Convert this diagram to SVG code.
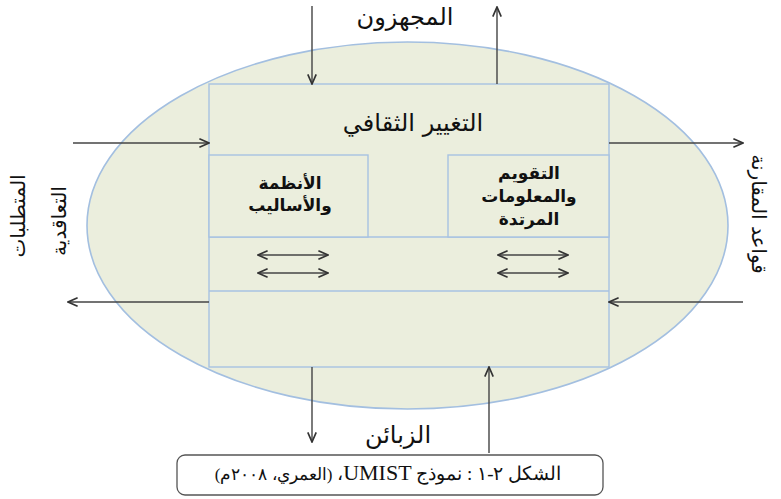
<svg xmlns="http://www.w3.org/2000/svg" width="781" height="499" viewBox="0 0 781 499">
<defs>
<marker id="ah" markerUnits="userSpaceOnUse" markerWidth="12" markerHeight="12" viewBox="0 0 10 10" refX="9" refY="5" orient="auto-start-reverse">
<path d="M1,1.5 L9,5 L1,8.5" fill="none" stroke="#333" stroke-width="1.4"/>
</marker>
<style>
.shape{fill:#ebeedd;stroke:#a3bfe0;stroke-width:1.6}
.box{fill:#ebeedd;stroke:#a7c2e2;stroke-width:1.4}
.arr{stroke:#444;stroke-width:1.4;fill:none;marker-end:url(#ah)}
.dbl{stroke:#444;stroke-width:1.3;fill:none;marker-end:url(#ah);marker-start:url(#ah)}
.ar{font-family:"DejaVu Sans","Noto Sans",sans-serif;fill:#111;text-anchor:middle;direction:rtl}
.bold{font-weight:bold}
.cap{font-family:"Liberation Serif","DejaVu Serif",serif;fill:#111;text-anchor:middle;direction:rtl}
</style>
</defs>
<g id="ellipse"><ellipse class="shape" cx="407.5" cy="225.5" rx="320.5" ry="183.5"/></g>
<g id="main">
<rect class="box" x="209" y="84" width="400" height="283"/>
<line class="box" x1="209" y1="237" x2="609" y2="237"/>
<line class="box" x1="209" y1="291" x2="609" y2="291"/>
</g>
<g id="culture"><text class="ar" x="413" y="131" font-size="24">التغيير  الثقافي</text></g>
<g id="systems">
<rect class="box" x="209" y="155" width="159" height="82"/>
<text class="ar bold" x="290" y="189" font-size="17">الأنظمة</text>
<text class="ar bold" x="290" y="211" font-size="17">والأساليب</text>
</g>
<g id="evaluation">
<rect class="box" x="448" y="155" width="161" height="82"/>
<text class="ar bold" x="529" y="179" font-size="17">التقويم</text>
<text class="ar bold" x="529" y="202" font-size="17">والمعلومات</text>
<text class="ar bold" x="529" y="225" font-size="17">المرتدة</text>
</g>
<g id="suppliers"><text class="ar" x="405" y="25" font-size="24">المجهزون</text></g>
<g id="customers"><text class="ar" x="398" y="443" font-size="24">الزبائن</text></g>
<g id="requirements">
<text class="ar" transform="translate(18,216) rotate(-90)" dominant-baseline="central" font-size="20">المتطلبات</text>
<text class="ar" transform="translate(59,221) rotate(-90)" dominant-baseline="central" font-size="20">التعاقدية</text>
</g>
<g id="benchmarks"><text class="ar" transform="translate(759,214) rotate(90)" dominant-baseline="central" font-size="20">قواعد المقارنة</text></g>
<g id="connectors">
<line class="arr" x1="312" y1="6" x2="312" y2="84"/>
<line class="arr" x1="497" y1="84" x2="497" y2="7"/>
<line class="arr" x1="312" y1="367" x2="312" y2="442"/>
<line class="arr" x1="489" y1="453" x2="489" y2="367"/>
<line class="arr" x1="73" y1="143" x2="209" y2="143"/>
<line class="arr" x1="609" y1="143" x2="743" y2="143"/>
<line class="arr" x1="209" y1="302" x2="68" y2="302"/>
<line class="arr" x1="743" y1="302" x2="609" y2="302"/>
<line class="dbl" x1="258" y1="255" x2="328" y2="255"/>
<line class="dbl" x1="258" y1="273" x2="328" y2="273"/>
<line class="dbl" x1="498" y1="255" x2="568" y2="255"/>
<line class="dbl" x1="498" y1="273" x2="568" y2="273"/>
</g>
<g id="caption">
<rect x="177" y="455" width="426" height="40" rx="8" fill="#fff" stroke="#555" stroke-width="1.3"/>
<text class="cap" x="388" y="480" font-size="19">الشكل ٢-١ : نموذج <tspan font-size="22">UMIST</tspan>، <tspan font-size="17">(العمري، ٢٠٠٨م)</tspan></text>
</g>
</svg>
